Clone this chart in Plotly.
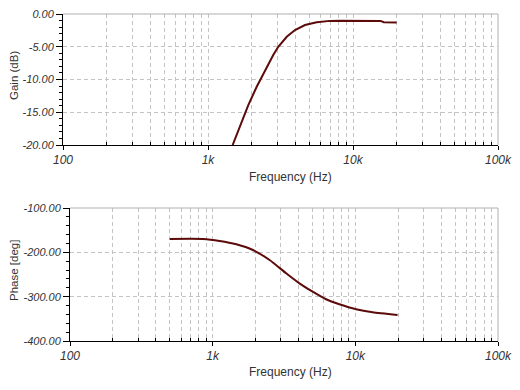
import plotly.graph_objects as go

# ---- data ----
gain_freq = [1479, 1663, 1896, 2167, 2472, 2818, 3052, 3491, 3981, 4667, 5618, 6934, 8128, 10000, 15500, 16300, 20000]
gain_db = [-20.0, -17.2, -13.9, -11.1, -8.55, -6.26, -5.0, -3.47, -2.44, -1.68, -1.27, -1.05, -1.02, -1.02, -1.05, -1.25, -1.28]

phase_freq = [500, 855, 1119, 1466, 1914, 2506, 3273, 4055, 5023, 6237, 7727, 10120, 13210, 19770]
phase_deg = [-169.9, -170, -174.4, -181.9, -194.7, -217.3, -247.3, -269.9, -288.8, -305.9, -317.2, -328.5, -335.3, -341.4]

x_tickvals = [100, 1000, 10000, 100000]
x_ticktext = ["100", "1k", "10k", "100k"]
gain_tickvals = [0, -5, -10, -15, -20]
gain_ticktext = ["0.00", "-5.00", "-10.00", "-15.00", "-20.00"]
phase_tickvals = [-100, -200, -300, -400]
phase_ticktext = ["-100.00", "-200.00", "-300.00", "-400.00"]

minor_x = [m * 10 ** d for d in (2, 3, 4) for m in range(2, 10)]

# page body has an 8px margin, so the figure is placed at (8, 8)
OFF = 8
W, H = 520 - OFF, 390 - OFF
LINE = "#5c0a0a"
FONT = "Arial, Liberation Sans, sans-serif"
GRID = "#c4c4c4"
DASH = "4px,3px"
TXT = "#333"

def px_x(p):
    return (p - OFF) / W

def px_y(p):
    return 1 - (p - OFF) / H

fig = go.Figure()
fig.add_trace(go.Scatter(x=gain_freq, y=gain_db, mode="lines",
                         line=dict(color=LINE, width=2), xaxis="x", yaxis="y"))
fig.add_trace(go.Scatter(x=phase_freq, y=phase_deg, mode="lines",
                         line=dict(color=LINE, width=2, shape="spline", smoothing=0.6),
                         xaxis="x2", yaxis="y2"))

top_x = [px_x(63), px_x(498)]
top_y = [px_y(145), px_y(14)]
bot_x = [px_x(70), px_x(498)]
bot_y = [px_y(341), px_y(208)]

def xaxis(domain, anchor):
    return dict(type="log", range=[2, 5], domain=domain, anchor=anchor, automargin=False,
                tickvals=x_tickvals, ticktext=x_ticktext, ticklabeloverflow="allow",
                tickfont=dict(family=FONT, size=12, style="italic", color=TXT),
                showline=True, linecolor="black", linewidth=1,
                ticks="outside", ticklen=4, tickcolor="black",
                showgrid=True, gridcolor=GRID, griddash=DASH, gridwidth=1,
                minor=dict(tickvals=minor_x, showgrid=True, gridcolor=GRID, griddash=DASH,
                           ticks="inside", ticklen=3, tickcolor="black"),
                zeroline=False, fixedrange=True)

def yaxis(domain, anchor, rng, tv, tt, dminor):
    return dict(range=rng, domain=domain, anchor=anchor, automargin=False,
                tickvals=tv, ticktext=tt, ticklabeloverflow="allow",
                tickfont=dict(family=FONT, size=11, style="italic", color=TXT),
                showline=True, linecolor="black", linewidth=1,
                ticks="outside", ticklen=6, tickcolor="black",
                showgrid=True, gridcolor=GRID, griddash=DASH, gridwidth=1,
                minor=dict(dtick=dminor, tick0=0, ticks="outside", ticklen=3, tickcolor="black", showgrid=False),
                zeroline=False, fixedrange=True)

def title(text, x, y, angle=0, size=12):
    return dict(text=text, xref="paper", yref="paper", x=px_x(x), y=px_y(y),
                xanchor="center", yanchor="middle", showarrow=False, textangle=angle,
                font=dict(family=FONT, size=size, color=TXT))

def frame(xd, yd):
    return [
        dict(type="line", xref="paper", yref="paper", x0=xd[0], x1=xd[1], y0=yd[1], y1=yd[1],
             line=dict(color="#b0b0b0", width=1)),
        dict(type="line", xref="paper", yref="paper", x0=xd[1], x1=xd[1], y0=yd[0], y1=yd[1],
             line=dict(color="#b0b0b0", width=1)),
    ]

fig.update_layout(
    width=W, height=H,
    margin=dict(l=0, r=0, t=0, b=0),
    paper_bgcolor="white", plot_bgcolor="white",
    showlegend=False,
    xaxis=xaxis(top_x, "y"),
    yaxis=yaxis(top_y, "x", [-20, 0], gain_tickvals, gain_ticktext, 1),
    xaxis2=xaxis(bot_x, "y2"),
    yaxis2=yaxis(bot_y, "x2", [-400, -100], phase_tickvals, phase_ticktext, 20),
    annotations=[
        title("Gain (dB)", 14, 76, -90, 11.5),
        title("Phase [deg]", 14, 271, -90, 11.5),
        title("Frequency (Hz)", 290, 177),
        title("Frequency (Hz)", 290, 372),
    ],
    shapes=frame(top_x, top_y) + frame(bot_x, bot_y),
)

fig.write_html("out.html")
